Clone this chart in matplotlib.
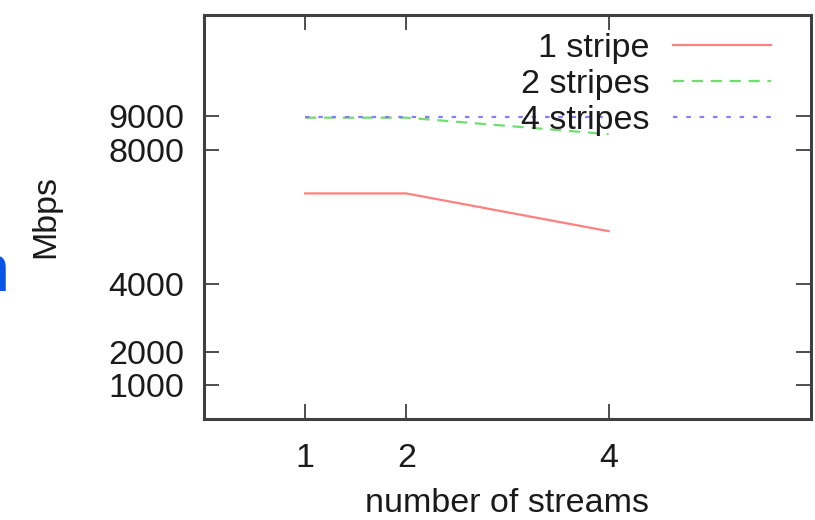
import matplotlib
matplotlib.use("Agg")
import matplotlib.pyplot as plt

# Throughput vs. number of parallel streams
streams = [1, 2, 4]
one_stripe = [6700, 6700, 5580]
two_stripes = [8950, 8950, 8460]
four_stripes = [8980, 8980, 8980]
series_labels = ["1 stripe", "2 stripes", "4 stripes"]
x_ticks = [1, 2, 4]
y_ticks = [1000, 2000, 4000, 8000, 9000]

plt.rcParams["font.family"] = ["Liberation Sans", "DejaVu Sans"]
text_color = "#1a1a1a"
frame_color = "#404040"
fs = 24.5

fig = plt.figure(figsize=(8.15, 5.2), dpi=100)
ax = fig.add_axes([0.2503, 0.1942, 0.995 - 0.2503, 0.9712 - 0.1942])

ax.plot(streams, one_stripe, color="#ff8080", lw=1.6, label=series_labels[0])
ax.plot(streams, two_stripes, color="#70dd70", lw=1.6, dashes=(5, 3.5),
        label=series_labels[1])
ax.plot(streams, four_stripes, color="#8080ff", lw=1.6, dashes=(2, 4),
        label=series_labels[2])

ax.set_xlim(0, 6)
ax.set_ylim(0, 12000)
ax.set_xticks(x_ticks)
ax.set_xticklabels([str(v) for v in x_ticks])
ax.set_yticks(y_ticks)
ax.set_yticklabels([str(v) for v in y_ticks])

for s in ax.spines.values():
    s.set_color(frame_color)
    s.set_linewidth(2.2)

ax.tick_params(direction="in", length=11, width=1.3, color=frame_color,
               top=True, right=True, labelsize=fs, labelcolor=text_color)
ax.tick_params(axis="x", pad=17)
ax.tick_params(axis="y", pad=14)

ax.set_xlabel("number of streams", fontsize=fs, color=text_color, labelpad=10.5)
ax.set_ylabel("Mbps", fontsize=fs, color=text_color, labelpad=34)

leg = ax.legend(loc="upper right", bbox_to_anchor=(0.9565, 0.99), frameon=False,
                markerfirst=False, fontsize=fs, handlelength=2.88,
                handletextpad=0.68, labelspacing=0.15, borderaxespad=0.0)
for t in leg.get_texts():
    t.set_color(text_color)
    t.set_ha("right")

# fragment of a large heading running off the left edge
fig.text(0.012, 0.44, "n", fontsize=48, color="#0a55e6", ha="right",
         va="baseline")

fig.savefig("out.png", dpi=100, facecolor="white")
